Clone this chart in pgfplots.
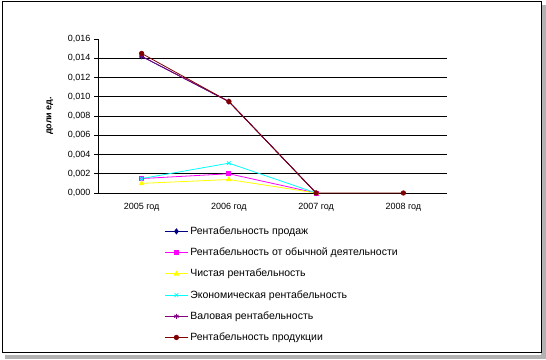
\documentclass[border=0pt]{standalone}
\usepackage{pgfplots}
\pgfplotsset{compat=1.18}
\usepackage{fontspec}
\setmainfont{Liberation Sans}
\definecolor{cNavy}{RGB}{0,0,128}
\definecolor{cPink}{RGB}{255,0,255}
\definecolor{cYel}{RGB}{255,255,0}
\definecolor{cCyan}{RGB}{0,255,255}
\definecolor{cPurp}{RGB}{128,0,128}
\definecolor{cBrown}{RGB}{128,0,0}
\begin{document}
\begin{tikzpicture}[x=1pt,y=1pt]
\fill[gray!60] (5,0) rectangle (546,354);
\fill[white] (0,4) rectangle (541,359);
\draw[black,line width=1pt] (2,7) rectangle (541,357);
\begin{axis}[
  at={(98pt,166pt)}, anchor=south west,
  scale only axis, width=349pt, height=154pt,
  xmin=0.5, xmax=4.5, ymin=0, ymax=0.016,
  axis lines=left, axis line style={-, line width=0.8pt},
  xtick={1,2,3,4},
  xticklabels={2005 год,2006 год,2007 год,2008 год},
  x tick style={draw=none},
  extra x ticks={0.5,1.5,2.5,3.5,4.5},
  extra x tick labels={},
  extra x tick style={tick style={draw=black, line width=0.8pt}, major tick length=4pt, tick align=outside},
  ytick={0,0.002,0.004,0.006,0.008,0.010,0.012,0.014,0.016},
  y tick style={black, line width=0.8pt}, major tick length=4pt, tick align=outside,
  extra y ticks={0.002,0.004,0.006,0.008,0.010,0.012,0.014},
  extra y tick labels={},
  extra y tick style={grid=major, major grid style={black, line width=0.8pt}, major tick length=0pt},
  yticklabel style={/pgf/number format/.cd, fixed, fixed zerofill, precision=3, use comma, assume math mode=true},
  scaled y ticks=false,
  xticklabel style={yshift=-3pt},
  tick label style={font=\fontsize{9}{10}\selectfont},
  ylabel={\textbf{доли ед.}}, ylabel style={font=\fontsize{9}{10}\selectfont, at={(axis description cs:-0.118,0.5)}},
  clip=false,
  legend style={at={(axis description cs:0.19,-0.205)}, anchor=north west, draw=none, fill=none,
    font=\fontsize{10.5}{12}\selectfont, row sep=8pt, inner sep=0pt,
    /tikz/every even column/.append style={column sep=1pt}},
  legend cell align=left,
  legend image code/.code={\draw[mark repeat=2,mark phase=2] plot coordinates {(0pt,0pt) (11.5pt,0pt) (23pt,0pt)};},
  every axis plot/.append style={line width=0.8pt},
]
\addplot[cNavy, mark=diamond*, mark size=2.5pt] coordinates {(1,0.0142) (2,0.0095) (3,0)};
\addlegendentry{Рентабельность продаж}
\addplot[cPink, mark=square*, mark size=2pt] coordinates {(1,0.0015) (2,0.0020) (3,0)};
\addlegendentry{Рентабельность от обычной деятельности}
\addplot[cYel, mark=triangle*, mark size=2.5pt] coordinates {(1,0.0010) (2,0.0014) (3,0)};
\addlegendentry{Чистая рентабельность}
\addplot[cCyan, mark=x, mark size=2.5pt] coordinates {(1,0.0015) (2,0.0031) (3,0)};
\addlegendentry{Экономическая рентабельность}
\addplot[cPurp, mark=asterisk, mark size=2.5pt] coordinates {(1,0.0142) (2,0.0095) (3,0)};
\addlegendentry{Валовая рентабельность}
\addplot[cBrown, mark=*, mark size=2.2pt] coordinates {(1,0.0145) (2,0.0095) (3,0) (4,0)};
\addlegendentry{Рентабельность продукции}
\end{axis}
\end{tikzpicture}
\end{document}
